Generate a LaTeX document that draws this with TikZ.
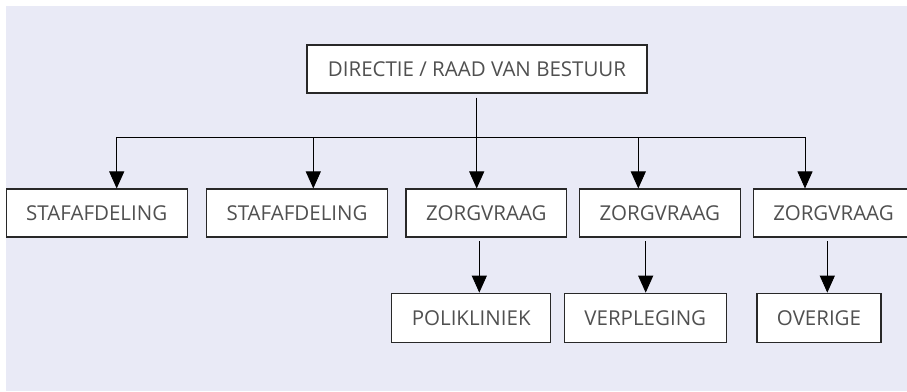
\documentclass[tikz,border=0pt]{standalone}
\usepackage{fontspec}
\setmainfont{Open Sans}
\usetikzlibrary{arrows.meta}
\definecolor{bgc}{RGB}{233,234,246}
\definecolor{txt}{RGB}{80,80,80}
\definecolor{edge}{RGB}{40,40,40}
\tikzset{
  box/.style={draw=edge, line width=1.1pt, fill=white, rectangle, inner sep=0pt,
    minimum height=48pt, text=txt, font=\fontsize{20.5}{24}\selectfont},
  conn/.style={draw=black, line width=0.9pt},
  arr/.style={conn, -{Triangle[width=15pt,length=17pt]}},
}
\begin{document}
\begin{tikzpicture}[x=1pt,y=-1pt]
\useasboundingbox (0,0) rectangle (907,391);
\fill[white] (0,0) rectangle (907,391);
\fill[bgc] (6,6) rectangle (907,391);
\begin{scope}
\clip (0,0) rectangle (907,391);
\node[box, minimum width=340pt] (top) at (477,69) {DIRECTIE / RAAD VAN BESTUUR};
\node[box, minimum width=181pt] (b1) at (96.7,213) {STAFAFDELING};
\node[box, minimum width=180.6pt] (b2) at (297,213) {STAFAFDELING};
\node[box, minimum width=160.7pt] (b3) at (486.3,213) {ZORGVRAAG};
\node[box, minimum width=161pt] (b4) at (659.8,213) {ZORGVRAAG};
\node[box, minimum width=160.4pt] (b5) at (833.5,213) {ZORGVRAAG};
\node[box, minimum width=159pt, minimum height=49pt] (c1) at (471.2,317.7) {POLIKLINIEK};
\node[box, minimum width=162pt, minimum height=49pt] (c2) at (645.3,317.7) {VERPLEGING};
\node[box, minimum width=124pt, minimum height=49pt] (c3) at (819,317.7) {OVERIGE};
\end{scope}
\coordinate (j1) at (116.7,137);
\coordinate (j2) at (313.3,137);
\coordinate (j3) at (476.7,137);
\coordinate (j4) at (638.3,137);
\coordinate (j5) at (805,137);
\coordinate (k1) at (479.3,241);
\coordinate (k2) at (645.7,241);
\coordinate (k3) at (827.3,241);
\draw[conn] ([yshift=-4pt]top.south -| j3) -- (j3);
\draw[conn] (j1) -- (j5);
\draw[arr] (j1) -- (j1 |- b1.north);
\draw[arr] (j2) -- (j2 |- b2.north);
\draw[arr] (j3) -- (j3 |- b3.north);
\draw[arr] (j4) -- (j4 |- b4.north);
\draw[arr] (j5) -- (j5 |- b5.north);
\draw[arr] (k1) -- (k1 |- c1.north);
\draw[arr] (k2) -- (k2 |- c2.north);
\draw[arr] (k3) -- (k3 |- c3.north);
\end{tikzpicture}
\end{document}
